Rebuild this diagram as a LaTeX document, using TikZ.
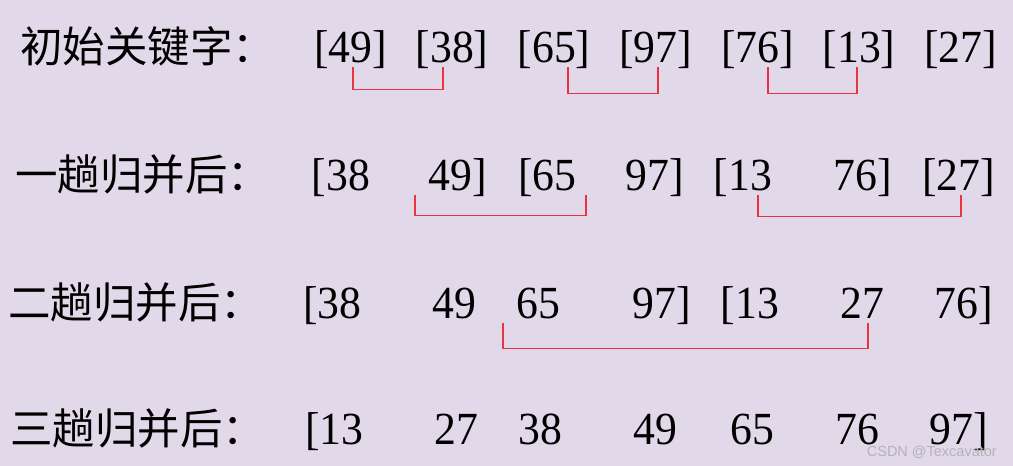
\documentclass[tikz,border=0pt]{standalone}
\usepackage{fontspec}
\setmainfont[FakeStretch=0.95]{Liberation Serif}
\newfontfamily\cjkfont{Noto Sans CJK SC}
\newfontfamily\markfont{Liberation Sans}
\definecolor{bgpurple}{RGB}{225,217,233}
\definecolor{linered}{RGB}{236,50,62}
\definecolor{markgray}{RGB}{180,178,186}

\begin{document}
\begin{tikzpicture}[x=1pt,y=-1pt,
  num/.style={anchor=base,inner sep=0pt,text height=30pt,text depth=5pt,font=\fontsize{46}{50}\selectfont},
  pass/.style={anchor=base west,inner sep=0pt,font=\cjkfont\fontsize{42.5}{50}\selectfont},
  merge/.style={draw=linered,line width=1.3pt}]
\fill[bgpurple] (0,0) rectangle (1013,466);

\node[pass] (la) at (20,62) {初始关键字：};
\node[num] (a1) at (350.5,62) {[49]};
\node[num] (a2) at (452,62) {[38]};
\node[num] (a3) at (554,62) {[65]};
\node[num] (a4) at (655.5,62) {[97]};
\node[num] (a5) at (757.5,62) {[76]};
\node[num] (a6) at (859,62) {[13]};
\node[num] (a7) at (960.5,62) {[27]};
\draw[merge] ([xshift=2.5pt]a1.south) -- ++(0,22) -| ([xshift=-9pt]a2.south);
\draw[merge] ([xshift=14pt]a3.south) -- ++(0,26) -| ([xshift=2.5pt]a4.south);
\draw[merge] ([xshift=10.5pt]a5.south) -- ++(0,26) -| ([xshift=-2pt]a6.south);

\node[pass] (lb) at (15,190) {一趟归并后：};
\node[num] (b1) at (341,190) {[38};
\node[num] (b2) at (458,190) {49]};
\node[num] (b3) at (547.5,190) {[65};
\node[num] (b4) at (655,190) {97]};
\node[num] (b5) at (743,190) {[13};
\node[num] (b6) at (862.5,190) {76]};
\node[num] (b7) at (958.5,190) {[27]};
\draw[merge] ([xshift=-43pt]b2.south) -- ++(0,20) -| ([xshift=38.5pt]b3.south);
\draw[merge] ([xshift=15pt]b5.south) -- ++(0,21) -| ([xshift=2.5pt]b7.south);

\node[pass] (lc) at (8,318) {二趟归并后：};
\node[num] (c1) at (332.5,318) {[38};
\node[num] (c2) at (454,318) {49};
\node[num] (c3) at (538,318) {65};
\node[num] (c4) at (661.5,318) {97]};
\node[num] (c5) at (750,318) {[13};
\node[num] (c6) at (862,318) {27};
\node[num] (c7) at (963.5,318) {76]};
\draw[merge] ([xshift=-35pt]c3.south) -- ++(0,25) -| ([xshift=6pt]c6.south);

\node[pass] (ld) at (10,444) {三趟归并后：};
\node[num] (d1) at (334.5,444) {[13};
\node[num] (d2) at (456.5,444) {27};
\node[num] (d3) at (540.5,444) {38};
\node[num] (d4) at (655.5,444) {49};
\node[num] (d5) at (752,444) {65};
\node[num] (d6) at (857,444) {76};
\node[num] (d7) at (959,444) {97]};

\node[anchor=base east,inner sep=0pt,font=\markfont\fontsize{14.5}{16}\selectfont,text=markgray] (mark) at (997,456) {CSDN @Texcavator};
\end{tikzpicture}
\end{document}
